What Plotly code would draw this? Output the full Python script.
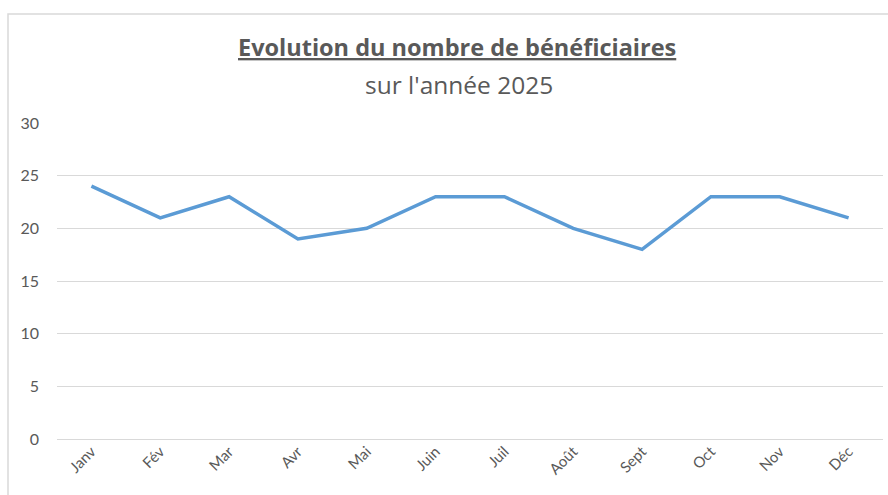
import plotly.graph_objects as go

months = ["Janv", "Fév", "Mar", "Avr", "Mai", "Juin", "Juil", "Août", "Sept", "Oct", "Nov", "Déc"]
beneficiaires = [24, 21, 23, 19, 20, 23, 23, 20, 18, 23, 23, 21]
y_ticks = [0, 5, 10, 15, 20, 25, 30]

W, H = 888, 495
L, R, T, B = 57, 5, 123, 56
pw, ph = W - L - R, H - T - B

def px_x(p):
    return (p - L) / pw

def px_y(p):
    return (H - B - p) / ph

FONT = "Open Sans"
GREY = "#595959"

fig = go.Figure()
fig.add_trace(go.Scatter(
    x=months, y=beneficiaires, mode="lines",
    line=dict(color="#5B9BD5", width=3.5),
    hoverinfo="x+y",
))

fig.update_layout(
    width=W, height=H,
    margin=dict(l=L, r=R, t=T, b=B),
    paper_bgcolor="white", plot_bgcolor="white",
    showlegend=False,
    font=dict(family=FONT, color=GREY, size=14),
    xaxis=dict(
        type="category", showgrid=False, showline=False, zeroline=False,
        tickangle=-45, tickfont=dict(family="Lato", size=15, color=GREY),
        ticks="", range=[-0.5, 11.5],
    ),
    yaxis=dict(
        range=[0, 30], tickvals=y_ticks, showgrid=True, gridcolor="#d9d9d9",
        gridwidth=1.3, zeroline=True, zerolinecolor="#d9d9d9", zerolinewidth=1.3,
        showline=False, ticks="", ticklabelstandoff=17,
        tickfont=dict(family="Lato", size=16, color=GREY),
    ),
    annotations=[
        dict(text="<b><u>Evolution du nombre de bénéficiaires</u></b>",
             xref="paper", yref="paper", x=px_x(457), y=px_y(47),
             xanchor="center", yanchor="middle", showarrow=False,
             font=dict(family=FONT, size=23.5, color=GREY)),
        dict(text="sur l'année 2025",
             xref="paper", yref="paper", x=px_x(459), y=px_y(84),
             xanchor="center", yanchor="middle", showarrow=False,
             font=dict(family=FONT, size=24.5, color=GREY)),
    ],
    shapes=[
        dict(type="rect", xref="paper", yref="paper",
             x0=px_x(8), x1=px_x(900), y0=px_y(510), y1=px_y(14),
             line=dict(color="#d9d9d9", width=1.5), fillcolor="rgba(0,0,0,0)",
             layer="below"),
    ],
)

fig.write_html("out.html", config={"displayModeBar": False},
               post_script="document.body.style.margin='0';document.body.style.overflow='hidden';")
